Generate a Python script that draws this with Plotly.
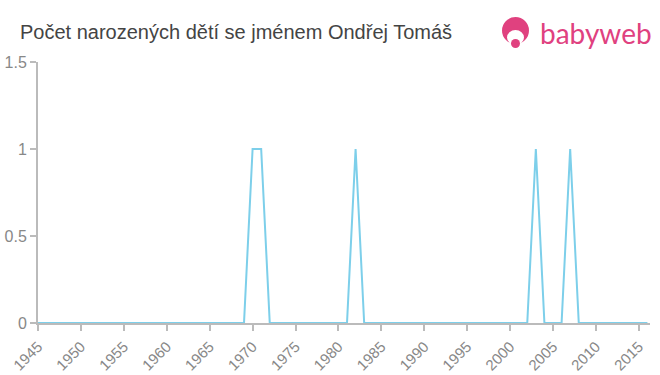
import plotly.graph_objects as go

years = list(range(1945, 2017))
peaks = {1970: 1, 1971: 1, 1982: 1, 2003: 1, 2007: 1}
counts = [peaks.get(y, 0) for y in years]

tick_years = list(range(1945, 2016, 5))
y_ticks = [0, 0.5, 1, 1.5]
y_tick_labels = ["0", "0.5", "1", "1.5"]

L, R, T, B = 38, 10, 62, 52
W, H = 660, 375
pw, ph = W - L - R, H - T - B

def px(x):
    return (x - L) / pw

def py(y):
    return (H - B - y) / ph

fig = go.Figure()
fig.add_trace(go.Scatter(
    x=years, y=counts, mode="lines",
    line=dict(color="#7dcfea", width=2),
    hoverinfo="x+y", showlegend=False,
))

axis_common = dict(
    showgrid=False, zeroline=False, showline=True, linecolor="#bbbbbb",
    linewidth=2, ticks="outside", tickcolor="#bbbbbb", ticklen=6, tickwidth=2,
    fixedrange=True, automargin=False,
)

fig.update_layout(
    width=W, height=H,
    margin=dict(l=L, r=R, t=T, b=B),
    paper_bgcolor="white", plot_bgcolor="white",
    font=dict(family="Liberation Sans, Arial, sans-serif", color="#888888"),
    title=dict(
        text="Počet narozených dětí se jménem Ondřej Tomáš",
        x=20 / W, xanchor="left", y=1 - 32 / H, yanchor="middle",
        font=dict(size=20, color="#444444"),
    ),
    xaxis=dict(
        range=[1945, 2016.3], tickmode="array", tickvals=tick_years,
        ticktext=[str(t) for t in tick_years], tickangle=-45,
        tickfont=dict(size=15, color="#888888"), ticklabelstandoff=1,
        **axis_common,
    ),
    yaxis=dict(
        range=[0, 1.5], tickmode="array", tickvals=y_ticks, ticktext=y_tick_labels,
        tickfont=dict(size=16, color="#888888"), **axis_common,
    ),
)

pink = "#e0417f"
# logo circle
fig.add_shape(type="circle", xref="paper", yref="paper",
              x0=px(502), x1=px(529), y0=py(44), y1=py(17),
              fillcolor=pink, line=dict(width=0), layer="above")
# face cutout
fig.add_shape(type="circle", xref="paper", yref="paper",
              x0=px(507), x1=px(524), y0=py(45), y1=py(30),
              fillcolor="white", line=dict(width=0), layer="above")
fig.add_shape(type="circle", xref="paper", yref="paper",
              x0=px(511), x1=px(520), y0=py(48), y1=py(39),
              fillcolor=pink, line=dict(width=0), layer="above")
fig.add_annotation(
    text="babyweb", xref="paper", yref="paper",
    x=px(538), y=py(33), xanchor="left", yanchor="middle",
    showarrow=False, font=dict(size=28, color=pink, family="Lato, sans-serif"),
)

fig.write_html("out.html")
